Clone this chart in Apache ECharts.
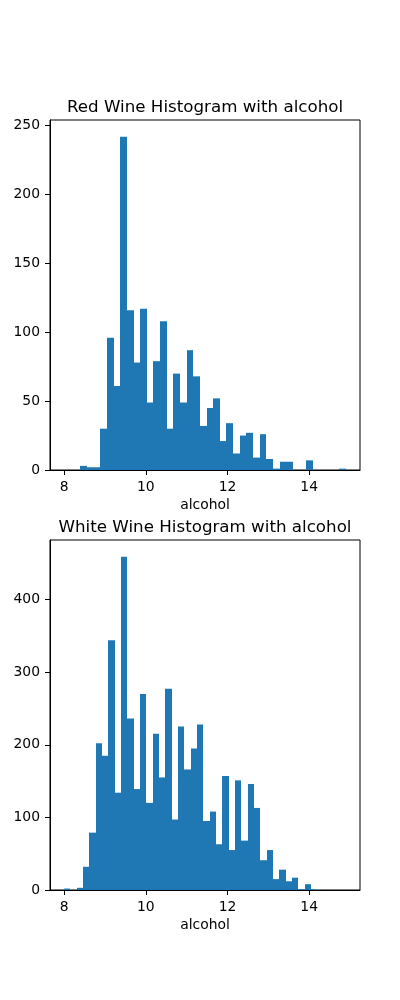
<!DOCTYPE html>
<html>
<head>
<meta charset="utf-8">
<script src="https://cdn.jsdelivr.net/npm/echarts@6/dist/echarts.min.js"></script>
<style>
  html, body { margin: 0; padding: 0; background: #fff; }
  #chart { width: 400px; height: 1000px; }
</style>
</head>
<body>
<div id="chart"></div>
<script>
// histogram counts, 40 bins each
const redRange = [8.4, 14.9];
const redCounts = [3, 2, 2, 30, 96, 61, 242, 116, 78, 117, 49, 79, 108, 30, 70, 49, 87, 68, 32, 45,
  52, 21, 34, 12, 25, 27, 9, 26, 8, 1, 6, 6, 0, 0, 7, 0, 0, 0, 0, 1];

const whiteRange = [8.0, 14.2];
const whiteCounts = [2, 0, 3, 32, 79, 202, 185, 344, 134, 459, 236, 139, 270, 120, 215, 155, 277, 97, 225, 166,
  195, 228, 95, 108, 63, 157, 55, 151, 68, 146, 113, 41, 55, 15, 28, 12, 17, 1, 8, 1];

const xTicks = [8, 10, 12, 14];
const redYTicks = [0, 50, 100, 150, 200, 250];
const whiteYTicks = [0, 100, 200, 300, 400];

const titles = ['Red Wine Histogram with alcohol', 'White Wine Histogram with alcohol'];
const xName = 'alcohol';

const FONT = 'DejaVu Sans';
const BLUE = '#1f77b4';

// bin edges + count -> [x0, x1, count]
function toBins(range, counts) {
  const w = (range[1] - range[0]) / counts.length;
  return counts.map((c, i) => [range[0] + i * w, range[0] + (i + 1) * w, c]);
}

// shared x limits like matplotlib (5% margin over both data ranges)
const lo = Math.min(redRange[0], whiteRange[0]);
const hi = Math.max(redRange[1], whiteRange[1]);
const pad = (hi - lo) * 0.05;

function xAxisOpt(gridIndex) {
  return {
    type: 'value', gridIndex, min: lo - pad, max: hi + pad, z: 5,
    name: xName, nameLocation: 'middle', nameGap: 28,
    nameTextStyle: { fontFamily: FONT, fontSize: 13.9, color: '#000' },
    splitLine: { show: false },
    axisLine: { show: true, lineStyle: { color: '#000', width: 1 } },
    axisTick: { show: true, length: 5, lineStyle: { color: '#000' }, customValues: xTicks },
    axisLabel: { fontFamily: FONT, fontSize: 13.9, color: '#000', margin: 10, customValues: xTicks }
  };
}

function yAxisOpt(gridIndex, counts, ticks) {
  return {
    type: 'value', gridIndex, min: 0, max: Math.max(...counts) * 1.05, z: 5,
    splitLine: { show: false },
    axisLine: { show: true, lineStyle: { color: '#000', width: 1 } },
    axisTick: { show: true, length: 5, lineStyle: { color: '#000' }, customValues: ticks },
    axisLabel: { fontFamily: FONT, fontSize: 13.9, color: '#000', margin: 10, customValues: ticks }
  };
}

// snap left/right edges to whole pixels so neighbouring bars don't leave seams
function renderBar(params, api) {
  const p0 = api.coord([api.value(0), api.value(2)]);
  const p1 = api.coord([api.value(1), 0]);
  const x0 = Math.round(p0[0]);
  const x1 = Math.round(p1[0]);
  return {
    type: 'rect',
    shape: { x: x0, y: p0[1], width: x1 - x0, height: p1[1] - p0[1] },
    style: { fill: BLUE }
  };
}

const chart = echarts.init(document.getElementById('chart'), null, { renderer: 'canvas' });

chart.setOption({
  animation: false,
  backgroundColor: '#fff',
  title: titles.map((t, i) => ({
    text: t, left: 205, top: i === 0 ? 99 : 519, textAlign: 'center', padding: 0,
    textStyle: { fontFamily: FONT, fontSize: 16.7, fontWeight: 'normal', color: '#000', lineHeight: 18 }
  })),
  grid: [
    { left: 50, top: 120, width: 310, height: 350, show: true, borderColor: '#000', borderWidth: 1 },
    { left: 50, top: 540, width: 310, height: 350, show: true, borderColor: '#000', borderWidth: 1 }
  ],
  xAxis: [xAxisOpt(0), xAxisOpt(1)],
  yAxis: [yAxisOpt(0, redCounts, redYTicks), yAxisOpt(1, whiteCounts, whiteYTicks)],
  series: [
    {
      type: 'custom', xAxisIndex: 0, yAxisIndex: 0,
      data: toBins(redRange, redCounts),
      encode: { x: [0, 1], y: 2 },
      renderItem: renderBar
    },
    {
      type: 'custom', xAxisIndex: 1, yAxisIndex: 1,
      data: toBins(whiteRange, whiteCounts),
      encode: { x: [0, 1], y: 2 },
      renderItem: renderBar
    }
  ]
});
</script>
</body>
</html>
